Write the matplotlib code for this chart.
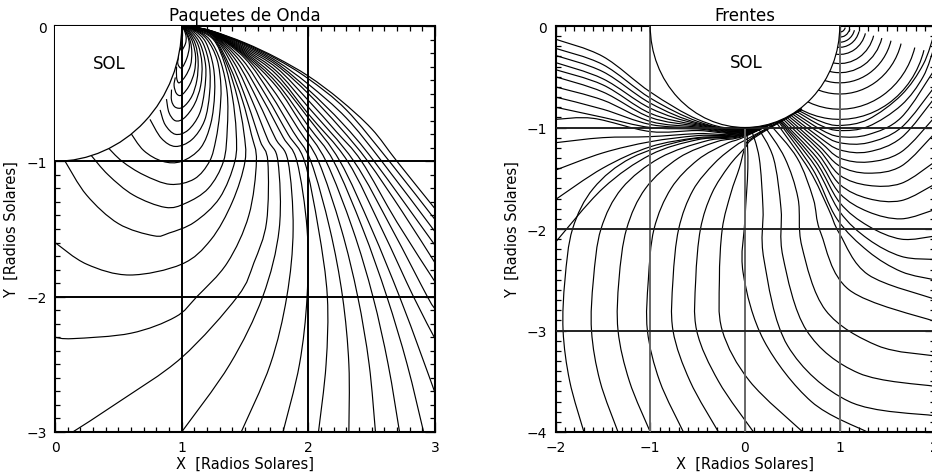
import numpy as np
import matplotlib
matplotlib.use("Agg")
import matplotlib.pyplot as plt
from matplotlib.path import Path
from matplotlib.patches import PathPatch, Wedge, Arc

# ---------------- left panel: wave packet paths -------------
# rays leaving through the right edge (outermost first)
rays_right = [
    [(1, 0), (1.1, -0.008), (1.25, -0.04), (1.5, -0.125), (1.75, -0.235), (2.0, -0.37), (2.25, -0.545), (2.5, -0.76), (2.7, -1.0), (3.0, -1.35)],
    [(1, 0), (1.1, -0.008), (1.25, -0.041), (1.5, -0.13), (1.75, -0.245), (2.0, -0.39), (2.3, -0.62), (2.64, -1.0), (3.0, -1.43)],
    [(1, 0), (1.1, -0.009), (1.25, -0.042), (1.5, -0.137), (1.75, -0.26), (2.0, -0.43), (2.3, -0.68), (2.58, -1.0), (3.0, -1.52)],
    [(1, 0), (1.1, -0.009), (1.25, -0.043), (1.5, -0.145), (1.75, -0.275), (2.0, -0.47), (2.27, -0.72), (2.52, -1.0), (3.0, -1.62)],
    [(1, 0), (1.1, -0.01), (1.25, -0.045), (1.5, -0.155), (1.75, -0.29), (2.0, -0.5), (2.25, -0.75), (2.47, -1.0), (2.74, -1.37), (3.0, -1.75)],
    [(1, 0), (1.1, -0.01), (1.25, -0.047), (1.5, -0.165), (1.75, -0.31), (2.0, -0.55), (2.22, -0.78), (2.42, -1.0), (2.7, -1.45), (3.0, -1.89)],
    [(1, 0), (1.1, -0.011), (1.25, -0.05), (1.5, -0.175), (1.75, -0.335), (2.0, -0.6), (2.36, -1.0), (2.66, -1.5), (2.94, -2.0), (3.0, -2.09)],
    [(1, 0), (1.1, -0.011), (1.25, -0.052), (1.5, -0.185), (1.75, -0.36), (2.0, -0.65), (2.31, -1.0), (2.58, -1.5), (2.83, -2.0), (3.0, -2.31)],
    [(1, 0), (1.1, -0.012), (1.25, -0.054), (1.5, -0.195), (1.75, -0.39), (2.0, -0.68), (2.25, -1.0), (2.5, -1.5), (2.72, -2.0), (2.88, -2.4), (3.0, -2.71)],
]
# rays leaving through the bottom
rays_bottom = [
    [(1, 0), (1.1, -0.012), (1.25, -0.056), (1.5, -0.205), (1.75, -0.42), (2.0, -0.74), (2.2, -1.0), (2.43, -1.5), (2.62, -2.0), (2.78, -2.5), (2.91, -3.0)],
    [(1, 0), (1.1, -0.013), (1.25, -0.058), (1.5, -0.215), (1.75, -0.45), (1.95, -0.73), (2.14, -1.0), (2.35, -1.5), (2.51, -2.0), (2.63, -2.5), (2.72, -3.0)],
    [(1, 0), (1.1, -0.013), (1.25, -0.06), (1.5, -0.225), (1.72, -0.47), (1.92, -0.76), (2.08, -1.0), (2.26, -1.5), (2.39, -2.0), (2.48, -2.5), (2.53, -3.0)],
    [(1, 0), (1.1, -0.014), (1.25, -0.062), (1.5, -0.24), (1.7, -0.5), (1.88, -0.78), (2.02, -1.0), (2.17, -1.5), (2.27, -2.0), (2.32, -2.5), (2.32, -3.0)],
    [(1, 0), (1.1, -0.014), (1.25, -0.064), (1.48, -0.25), (1.67, -0.52), (1.84, -0.8), (1.97, -1.0), (2.08, -1.5), (2.15, -2.0), (2.14, -2.5), (2.08, -3.0)],
    [(1, 0), (1.1, -0.015), (1.25, -0.066), (1.46, -0.26), (1.64, -0.54), (1.8, -0.82), (1.91, -1.0), (1.99, -1.5), (1.99, -2.0), (1.93, -2.5), (1.80, -3.0)],
    [(1, 0), (1.1, -0.015), (1.25, -0.068), (1.44, -0.27), (1.6, -0.55), (1.74, -0.83), (1.84, -1.0), (1.88, -1.5), (1.83, -2.0), (1.7, -2.5), (1.47, -3.0)],
    [(1, 0), (1.1, -0.016), (1.25, -0.07), (1.42, -0.28), (1.56, -0.56), (1.68, -0.84), (1.76, -1.0), (1.77, -1.5), (1.64, -2.0), (1.38, -2.5), (1.0, -3.0)],
    [(1, 0), (1.1, -0.016), (1.25, -0.073), (1.4, -0.29), (1.52, -0.57), (1.62, -0.85), (1.68, -1.0), (1.67, -1.45), (1.57, -1.75), (1.44, -2.0), (1.0, -2.45), (0.5, -2.78), (0.14, -3.0)],
]
# rays that bend back to the left edge or onto the sun
rays_back = [
    [(1, 0), (1.1, -0.018), (1.25, -0.08), (1.38, -0.3), (1.48, -0.55), (1.55, -0.8), (1.59, -1.0), (1.53, -1.4), (1.36, -1.75), (1.12, -2.0), (0.95, -2.15), (0.6, -2.27), (0.14, -2.31), (0, -2.3)],
    [(1, 0), (1.1, -0.02), (1.25, -0.09), (1.36, -0.29), (1.44, -0.53), (1.49, -0.78), (1.5, -1.0), (1.4, -1.3), (1.23, -1.58), (1.0, -1.76), (0.59, -1.84), (0.25, -1.76), (0, -1.6)],
    [(1, 0), (1.1, -0.022), (1.25, -0.1), (1.34, -0.28), (1.4, -0.52), (1.43, -0.78), (1.42, -1.0), (1.3, -1.27), (1.1, -1.45), (0.9, -1.53), (0.78, -1.55), (0.5, -1.46), (0.25, -1.25), (0.08, -1.0)],
    [(1, 0), (1.1, -0.025), (1.22, -0.1), (1.31, -0.27), (1.36, -0.5), (1.36, -0.76), (1.33, -1.0), (1.21, -1.2), (1.03, -1.31), (0.87, -1.34), (0.62, -1.25), (0.42, -1.1), (0.28, -0.95)],
    [(1, 0), (1.1, -0.028), (1.2, -0.1), (1.28, -0.25), (1.31, -0.45), (1.3, -0.65), (1.27, -0.84), (1.22, -1.0), (1.1, -1.13), (0.91, -1.17), (0.7, -1.1), (0.53, -1.0), (0.41, -0.89)],
    [(1, 0), (1.1, -0.035), (1.19, -0.12), (1.25, -0.3), (1.26, -0.5), (1.23, -0.72), (1.15, -0.9), (1.0, -1.0), (0.85, -1.0), (0.7, -0.92), (0.59, -0.78)],
    [(1, 0), (1.09, -0.04), (1.17, -0.13), (1.22, -0.3), (1.22, -0.5), (1.18, -0.7), (1.08, -0.84), (0.95, -0.89), (0.84, -0.83), (0.75, -0.69)],
    [(1, 0), (1.08, -0.045), (1.15, -0.14), (1.19, -0.3), (1.18, -0.48), (1.14, -0.65), (1.05, -0.77), (0.95, -0.8), (0.87, -0.73), (0.83, -0.62)],
    [(1, 0), (1.07, -0.05), (1.13, -0.14), (1.16, -0.28), (1.15, -0.44), (1.1, -0.58), (1.02, -0.68), (0.95, -0.7), (0.9, -0.64), (0.88, -0.54)],
    [(1, 0), (1.06, -0.05), (1.11, -0.14), (1.13, -0.26), (1.12, -0.4), (1.08, -0.52), (1.01, -0.6), (0.95, -0.6), (0.92, -0.55), (0.92, -0.47)],
    [(1, 0), (1.05, -0.05), (1.09, -0.13), (1.11, -0.23), (1.1, -0.34), (1.06, -0.44), (1.0, -0.51), (0.96, -0.5), (0.94, -0.44), (0.95, -0.38)],
    [(1, 0), (1.04, -0.05), (1.07, -0.12), (1.08, -0.2), (1.07, -0.29), (1.03, -0.37), (0.98, -0.42), (0.96, -0.38), (0.96, -0.3)],
    [(1, 0), (1.03, -0.04), (1.055, -0.1), (1.06, -0.16), (1.04, -0.24), (1.0, -0.31), (0.97, -0.28), (0.975, -0.22)],
    [(1, 0), (1.02, -0.03), (1.035, -0.08), (1.03, -0.13), (1.0, -0.18), (0.985, -0.15)],
]

# ---------------- right panel: wave fronts ----------------------------------------------
source_radii = [0.06, 0.11, 0.16, 0.21, 0.28, 0.37, 0.46, 0.56, 0.67, 0.82, 0.92]

fronts_right_edge = [
    [(0.56, -0.83), (0.8, -0.94), (1.0, -0.98), (1.3, -0.92), (1.65, -0.68), (1.88, -0.38), (2.0, -0.07)],
    [(0.54, -0.84), (0.8, -0.98), (1.0, -1.03), (1.3, -0.99), (1.65, -0.78), (1.88, -0.5), (2.0, -0.2)],
    [(0.52, -0.855), (0.8, -1.02), (1.0, -1.09), (1.3, -1.07), (1.65, -0.9), (2.0, -0.43)],
    [(0.5, -0.866), (0.8, -1.06), (1.0, -1.15), (1.3, -1.15), (1.65, -1.0), (2.0, -0.6)],
    [(0.48, -0.877), (0.79, -1.1), (1.0, -1.22), (1.3, -1.24), (1.65, -1.1), (2.0, -0.71)],
    [(0.46, -0.888), (0.79, -1.14), (1.0, -1.3), (1.3, -1.34), (1.65, -1.24), (2.0, -0.9)],
    [(0.44, -0.898), (0.78, -1.18), (1.0, -1.38), (1.3, -1.45), (1.65, -1.38), (2.0, -1.06)],
    [(0.42, -0.907), (0.78, -1.22), (1.0, -1.47), (1.3, -1.57), (1.65, -1.55), (2.0, -1.34)],
    [(0.40, -0.916), (0.77, -1.26), (1.0, -1.56), (1.3, -1.7), (1.65, -1.72), (2.0, -1.56)],
    [(0.38, -0.925), (0.76, -1.3), (1.0, -1.65), (1.3, -1.83), (1.65, -1.9), (2.0, -1.81)],
    [(0.37, -0.93), (0.75, -1.34), (1.0, -1.74), (1.3, -1.97), (1.65, -2.1), (2.0, -2.07)],
    [(0.36, -0.933), (0.74, -1.38), (1.0, -1.83), (1.3, -2.1), (1.65, -2.27), (2.0, -2.30)],
    [(0.35, -0.937), (0.72, -1.42), (0.97, -1.9), (1.3, -2.22), (1.65, -2.42), (2.0, -2.50)],
    [(0.33, -0.95), (0.68, -1.42), (0.88, -1.8), (1.0, -2.05), (1.3, -2.45), (2.0, -2.69)],
    [(0.26, -0.965), (0.55, -1.3), (0.72, -1.7), (0.8, -2.04), (1.1, -2.6), (2.0, -2.91)],
    [(0.2, -0.98), (0.42, -1.3), (0.56, -1.7), (0.6, -2.17), (0.85, -2.8), (1.4, -3.15), (2.0, -3.25)],
    [(0.13, -0.99), (0.3, -1.3), (0.38, -1.8), (0.4, -2.27), (0.65, -3.0), (1.2, -3.42), (2.0, -3.55)],
    [(0.06, -1.0), (0.15, -1.3), (0.19, -1.8), (0.2, -2.3), (0.45, -3.15), (1.1, -3.7), (2.0, -3.84)],
]

fronts_bottom = [
    [(0.02, -1.0), (0.03, -1.4), (0.0, -1.9), (-0.02, -2.43), (0.2, -3.1), (0.7, -3.7), (1.29, -4.0)],
    [(0.61, -4.0), (0.05, -3.5), (-0.24, -3.0), (-0.27, -2.5), (-0.24, -2.0), (-0.15, -1.65), (-0.06, -1.4), (0.0, -1.2), (0.08, -1.1), (0.6, -0.82)],
    [(0.09, -4.0), (-0.28, -3.5), (-0.51, -3.0), (-0.52, -2.5), (-0.47, -2.0), (-0.35, -1.65), (-0.17, -1.38), (0.0, -1.2), (0.1, -1.1), (0.6, -0.82)],
    [(-0.28, -4.0), (-0.58, -3.5), (-0.76, -3.0), (-0.76, -2.5), (-0.7, -2.0), (-0.55, -1.62), (-0.32, -1.35), (-0.1, -1.18), (0.05, -1.1), (0.6, -0.82)],
    [(-0.65, -4.0), (-0.9, -3.5), (-1.03, -3.0), (-1.02, -2.5), (-0.96, -2.0), (-0.78, -1.6), (-0.5, -1.32), (-0.2, -1.16), (0.0, -1.09), (0.6, -0.82)],
    [(-1.0, -4.0), (-1.22, -3.5), (-1.34, -3.0), (-1.33, -2.5), (-1.25, -2.0), (-1.05, -1.6), (-0.7, -1.3), (-0.3, -1.14), (0.0, -1.08), (0.6, -0.82)],
    [(-1.34, -4.0), (-1.53, -3.5), (-1.62, -3.0), (-1.6, -2.5), (-1.52, -2.0), (-1.3, -1.6), (-0.9, -1.3), (-0.4, -1.13), (0.0, -1.075), (0.6, -0.82)],
    [(-1.70, -4.0), (-1.85, -3.5), (-1.92, -3.0), (-1.90, -2.5), (-1.82, -2.0), (-1.6, -1.6), (-1.2, -1.3), (-0.6, -1.12), (0.0, -1.07), (0.6, -0.82)],
]

fronts_left_edge = [
    [(-2, -2.13), (-1.5, -1.6), (-1, -1.27), (-0.5, -1.12), (0, -1.065), (0.6, -0.8)],
    [(-2, -1.71), (-1.5, -1.4), (-1, -1.19), (-0.5, -1.1), (0, -1.06), (0.6, -0.8)],
    [(-2, -1.42), (-1.5, -1.25), (-1, -1.14), (-0.5, -1.08), (0, -1.055), (0.6, -0.8)],
    [(-2, -1.15), (-1.5, -1.1), (-1, -1.09), (-0.5, -1.06), (0, -1.05), (0.6, -0.8)],
    [(-2, -0.92), (-1.6, -0.91), (-1, -1.04), (-0.5, -1.03), (0, -1.045), (0.6, -0.8)],
    [(-2, -0.8), (-1.5, -0.9), (-1, -1.0), (-0.5, -1.015), (0, -1.04), (0.55, -0.8)],
    [(-2, -0.7), (-1.5, -0.82), (-1, -0.97), (-0.5, -1.005), (0, -1.035), (0.5, -0.8)],
    [(-2, -0.6), (-1.5, -0.73), (-1, -0.94), (-0.5, -0.995), (0, -1.03), (0.45, -0.8)],
    [(-2, -0.5), (-1.5, -0.65), (-1, -0.9), (-0.5, -0.985), (0, -1.025), (0.4, -0.8)],
    [(-2, -0.43), (-1.5, -0.58), (-1, -0.86), (-0.5, -0.975), (0, -1.02), (0.35, -0.8)],
    [(-2, -0.36), (-1.5, -0.52), (-1, -0.81), (-0.5, -0.965), (0, -1.015), (0.3, -0.8)],
    [(-2, -0.29), (-1.5, -0.45), (-1, -0.76), (-0.5, -0.955), (0, -1.01), (0.25, -0.8)],
    [(-2, -0.22), (-1.5, -0.38), (-1, -0.71), (-0.5, -0.94), (-0.1, -1.005), (0.2, -0.8)],
    [(-2, -0.13), (-1.5, -0.3), (-1, -0.65), (-0.5, -0.92), (-0.1, -1.0), (0.15, -0.8)],
]


def smooth_path(pts):
    # catmull-rom through the read points, handed to matplotlib as bezier segments
    p = np.asarray(pts, float)
    n = len(p)
    verts = [p[0]]
    codes = [Path.MOVETO]
    for i in range(n - 1):
        p0 = p[i - 1] if i > 0 else p[i]
        p3 = p[i + 2] if i + 2 < n else p[i + 1]
        verts += [p[i] + (p[i + 1] - p0) / 6, p[i + 1] - (p3 - p[i]) / 6, p[i + 1]]
        codes += [Path.CURVE4] * 3
    return Path(verts, codes)


def draw_lines(ax, groups, lw=0.85):
    for g in groups:
        for pts in g:
            ax.add_patch(PathPatch(smooth_path(pts), fill=False, lw=lw, color='black', zorder=2))


def style_axes(ax, xlim, ylim):
    ax.set_xlim(*xlim)
    ax.set_ylim(*ylim)
    ax.set_xticks(np.arange(xlim[0], xlim[1] + 1))
    ax.set_yticks(np.arange(ylim[0], ylim[1] + 1))
    ax.set_xticks(np.arange(xlim[0], xlim[1] + 0.01, 0.1), minor=True)
    ax.set_yticks(np.arange(ylim[0], ylim[1] + 0.01, 0.1), minor=True)
    ax.tick_params(which='both', direction='in', top=True, right=True, labelsize=10, width=0.9)
    ax.tick_params(which='major', length=7, pad=6)
    ax.tick_params(which='minor', length=3.5)
    for s in ax.spines.values():
        s.set_linewidth(1.5)
    ax.set_xlabel('X  [Radios Solares]', fontsize=10.5, labelpad=1)
    ax.set_ylabel('Y  [Radios Solares]', fontsize=10.5, labelpad=5)


fig = plt.figure(figsize=(9.32, 4.77), dpi=100)
axL = fig.add_axes([55 / 932, 44 / 477, 380 / 932, 406 / 477])
axR = fig.add_axes([555.5 / 932, 44 / 477, 379 / 932, 406 / 477])

# left
style_axes(axL, (0, 3), (-3, 0))
draw_lines(axL, [rays_right, rays_bottom, rays_back])
axL.add_patch(Wedge((0, 0), 1, 270, 360, facecolor='white', edgecolor='none', zorder=3))
axL.add_patch(Arc((0, 0), 2, 2, theta1=270, theta2=360, lw=0.9, color='black', zorder=4))
for v in [1, 2]:
    axL.axvline(v, color='black', lw=1.4, zorder=5)
for h in [-1, -2]:
    axL.axhline(h, color='black', lw=1.4, zorder=5)
axL.text(0.43, -0.27, 'SOL', fontsize=12, ha='center', va='center', zorder=6)
axL.set_title('Paquetes de Onda', fontsize=12, pad=4)

# right
style_axes(axR, (-2, 2), (-4, 0))
for r in source_radii:
    axR.add_patch(Arc((1, 0), 2 * r, 2 * r, theta1=180, theta2=345, lw=0.85, color='black', zorder=2))
draw_lines(axR, [fronts_right_edge, fronts_bottom, fronts_left_edge])
for v in [-1, 0, 1]:
    axR.axvline(v, color='#666666', lw=1.4, zorder=3)
for h in [-1, -2, -3]:
    axR.axhline(h, color='#222222', lw=1.4, zorder=3)
axR.add_patch(Wedge((0, 0), 1, 180, 360, facecolor='white', edgecolor='none', zorder=4))
axR.add_patch(Arc((0, 0), 2, 2, theta1=180, theta2=360, lw=0.85, color='black', zorder=5))
axR.text(0.01, -0.35, 'SOL', fontsize=12, ha='center', va='center', zorder=6)
axR.set_title('Frentes', fontsize=12, pad=4)

fig.savefig('out.png', dpi=100)
